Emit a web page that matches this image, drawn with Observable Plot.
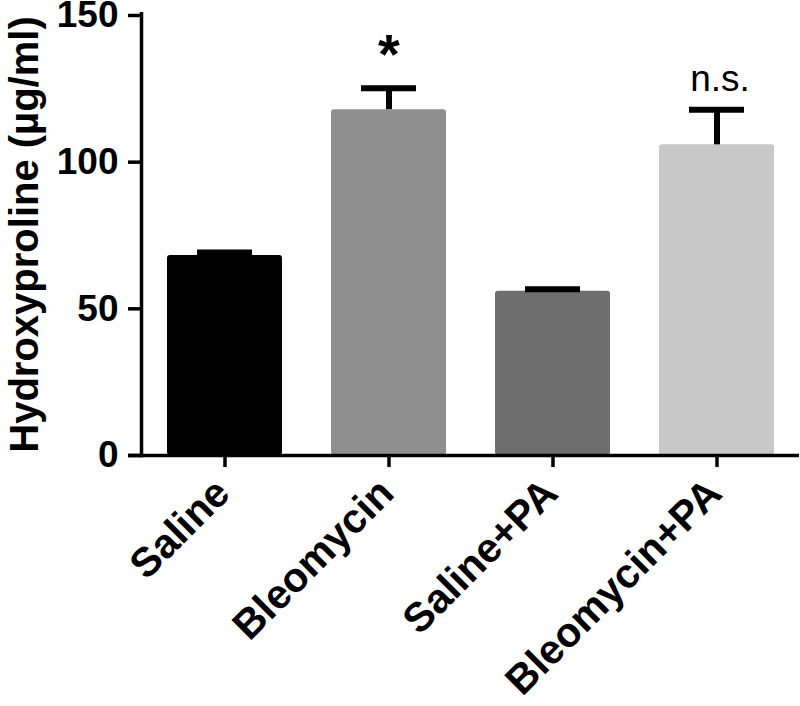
<!DOCTYPE html>
<html><head><meta charset="utf-8">
<script src="https://cdn.jsdelivr.net/npm/d3@7"></script>
<script src="https://cdn.jsdelivr.net/npm/@observablehq/plot@0.6"></script>
<style>html,body{margin:0;padding:0;background:#fff}#chart{width:800px;height:706px}</style>
</head><body><div id="chart"></div>
<script>
const categories = ["Saline", "Bleomycin", "Saline+PA", "Bleomycin+PA"];
const means = [68.2, 117.9, 56.0, 105.9];
const sems = [1.0, 7.3, 0.7, 12.0];
const fills = ["#000000", "#8f8f8f", "#6e6e6e", "#c8c8c8"];
const yTicks = [0, 50, 100, 150];
const yLabel = "Hydroxyproline (µg/ml)";
const starGroups = ["Bleomycin"];
const nsGroups = ["Bleomycin+PA"];

const data = categories.map((c, i) => ({group: c, mean: means[i], top: means[i] + sems[i], fill: fills[i]}));
const starRows = data.filter(d => starGroups.includes(d.group));
const nsRows = data.filter(d => nsGroups.includes(d.group));
const font = "'Liberation Sans', Arial, Helvetica, sans-serif";

const chart = Plot.plot({
  width: 800,
  height: 706,
  marginLeft: 141,
  marginRight: 1,
  marginTop: 15,
  marginBottom: 251,
  style: {fontFamily: font, background: "#ffffff", color: "#000000"},
  x: {domain: categories, paddingInner: 0.3, paddingOuter: 0.146, axis: null},
  y: {domain: [0, 150], axis: null},
  color: {type: "identity"},
  marks: [
    Plot.barY(data, {x: "group", y: "mean", fill: "fill", rx: 3}),
    Plot.ruleX(data, {x: "group", y1: "mean", y2: "top", stroke: "#000", strokeWidth: 6}),
    Plot.tickY(data, {x: "group", y: "top", stroke: "#000", strokeWidth: 6, inset: 30}),
    Plot.frame({anchor: "left", stroke: "#000", strokeWidth: 3.5, insetTop: -1.75}),
    Plot.ruleY([0], {stroke: "#000", strokeWidth: 3.5, insetLeft: -13}),
    Plot.ruleX(data, {x: "group", y1: 0, y2: 0, insetBottom: -12, stroke: "#000", strokeWidth: 3.5}),
    Plot.axisY({ticks: yTicks, tickSize: 13, tickPadding: 10, strokeWidth: 3.5, fontSize: 37, fontWeight: "bold", label: null}),
    Plot.text(data, {x: "group", y: 0, text: "group", rotate: -45, textAnchor: "end", lineAnchor: "bottom", dx: 7, dy: 40, fontSize: 41, fontWeight: "bold", fill: "#000"}),
    Plot.text([yLabel], {text: d => d, frameAnchor: "left", rotate: -90, textAnchor: "middle", lineAnchor: "bottom", dx: -104, dy: -1, fontSize: 40, fontWeight: "bold", fill: "#000"}),
    Plot.text(starRows, {x: "group", y: "top", text: () => "*", textAnchor: "middle", lineAnchor: "bottom", dy: -15, fontSize: 56, fontWeight: "bold", fill: "#000"}),
    Plot.text(nsRows, {x: "group", y: "top", text: () => "n.s.", textAnchor: "middle", lineAnchor: "bottom", dx: 3, dy: -19, fontSize: 37, fill: "#000"})
  ]
});
document.getElementById("chart").appendChild(chart);
</script>
</body></html>
